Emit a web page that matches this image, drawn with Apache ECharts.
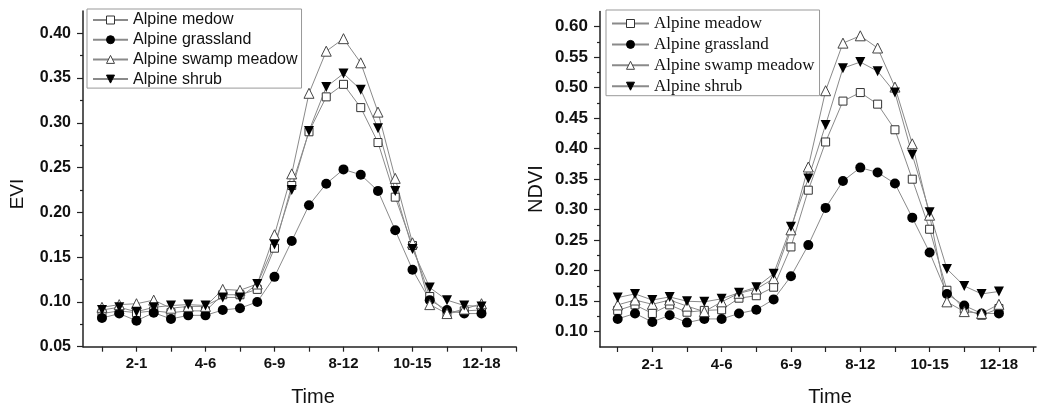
<!DOCTYPE html>
<html>
<head>
<meta charset="utf-8">
<script src="https://cdn.jsdelivr.net/npm/echarts@6/dist/echarts.min.js"></script>
<style>
html, body { margin: 0; padding: 0; background: #fff; }
#echarts { width: 1038px; height: 408px; }
</style>
</head>
<body>
<div id="echarts"></div>
<script>
// x labels sit on every 4th sample (23 samples per curve)
var timeLabels = ['2-1', '4-6', '6-9', '8-12', '10-15', '12-18'];
var timeLabelIndex = [2, 6, 10, 14, 18, 22];

var eviNames = ['Alpine medow', 'Alpine grassland', 'Alpine swamp meadow', 'Alpine shrub'];
var ndviNames = ['Alpine meadow', 'Alpine grassland', 'Alpine swamp meadow', 'Alpine shrub'];

// EVI
var eviMeadow = [0.087, 0.090, 0.088, 0.090, 0.088, 0.090, 0.090, 0.108, 0.108, 0.114, 0.160, 0.230, 0.290, 0.329, 0.343, 0.317, 0.278, 0.217, 0.163, 0.106, 0.087, 0.090, 0.091];
var eviGrass  = [0.082, 0.087, 0.079, 0.088, 0.081, 0.085, 0.085, 0.091, 0.093, 0.100, 0.128, 0.168, 0.208, 0.232, 0.248, 0.242, 0.224, 0.180, 0.136, 0.102, 0.091, 0.087, 0.087];
var eviSwamp  = [0.094, 0.097, 0.098, 0.102, 0.093, 0.095, 0.095, 0.114, 0.113, 0.120, 0.175, 0.243, 0.333, 0.380, 0.394, 0.367, 0.312, 0.238, 0.166, 0.097, 0.087, 0.092, 0.098];
var eviShrub  = [0.091, 0.094, 0.089, 0.094, 0.096, 0.097, 0.096, 0.105, 0.105, 0.120, 0.164, 0.225, 0.291, 0.340, 0.355, 0.337, 0.294, 0.224, 0.159, 0.116, 0.102, 0.096, 0.095];

// NDVI
var ndviMeadow = [0.135, 0.144, 0.130, 0.144, 0.132, 0.135, 0.136, 0.155, 0.159, 0.173, 0.239, 0.332, 0.411, 0.478, 0.492, 0.473, 0.431, 0.350, 0.268, 0.168, 0.137, 0.127, 0.138];
var ndviGrass  = [0.121, 0.130, 0.116, 0.127, 0.115, 0.121, 0.121, 0.130, 0.136, 0.153, 0.191, 0.242, 0.303, 0.347, 0.369, 0.361, 0.343, 0.287, 0.230, 0.162, 0.143, 0.130, 0.130];
var ndviSwamp  = [0.144, 0.152, 0.145, 0.152, 0.142, 0.133, 0.149, 0.163, 0.170, 0.187, 0.267, 0.370, 0.495, 0.573, 0.585, 0.565, 0.501, 0.408, 0.291, 0.149, 0.133, 0.130, 0.145];
var ndviShrub  = [0.156, 0.162, 0.152, 0.157, 0.150, 0.149, 0.154, 0.164, 0.173, 0.195, 0.272, 0.351, 0.439, 0.532, 0.542, 0.527, 0.492, 0.390, 0.296, 0.203, 0.175, 0.162, 0.166];

var eviTicks = [0.05, 0.10, 0.15, 0.20, 0.25, 0.30, 0.35, 0.40];
var ndviTicks = [0.10, 0.15, 0.20, 0.25, 0.30, 0.35, 0.40, 0.45, 0.50, 0.55, 0.60];

window.onload = function () {
    var axisColor = '#222';
    var lineColor = '#8a8a8a';

    // marker look of each curve (same order as names)
    var markers = [
        { symbol: 'rect', symbolSize: 8, symbolRotate: 0, itemStyle: { color: '#fff', borderColor: '#333', borderWidth: 1 } },
        { symbol: 'circle', symbolSize: 10, symbolRotate: 0, itemStyle: { color: '#000', borderColor: '#000', borderWidth: 0 } },
        { symbol: 'triangle', symbolSize: 10, symbolRotate: 0, itemStyle: { color: '#fff', borderColor: '#444', borderWidth: 1 } },
        { symbol: 'triangle', symbolSize: 10, symbolRotate: 180, itemStyle: { color: '#000', borderColor: '#000', borderWidth: 0 } }
    ];

    function toPairs(arr) {
        return arr.map(function (v, i) { return [i, v]; });
    }

    function halfSteps(list) {
        var out = [];
        for (var i = 0; i < list.length - 1; i++) {
            out.push(Math.round((list[i] + list[i + 1]) / 2 * 1000) / 1000);
        }
        return out;
    }

    var xTickValues = [];
    for (var t = 0; t <= 24; t += 2) xTickValues.push(t);

    function xAxisOf(grid, min, max) {
        return {
            type: 'value', gridIndex: grid, min: min, max: max,
            splitLine: { show: false },
            axisLine: { onZero: false, lineStyle: { color: axisColor, width: 1.5 } },
            axisTick: { inside: false, length: 5, customValues: xTickValues, lineStyle: { color: axisColor, width: 1.2 } },
            axisLabel: {
                customValues: timeLabelIndex, margin: 10,
                color: '#111', fontSize: 15, fontWeight: 'bold', fontFamily: 'Liberation Sans, Arial',
                formatter: function (v) { return timeLabels[timeLabelIndex.indexOf(v)] || ''; }
            }
        };
    }

    function yAxisOf(grid, min, max, ticks, fontSize) {
        return {
            type: 'value', gridIndex: grid, min: min, max: max, position: 'left',
            splitLine: { show: false },
            axisLine: { onZero: false, lineStyle: { color: axisColor, width: 1.5 } },
            axisTick: { length: 6, customValues: ticks, lineStyle: { color: axisColor, width: 1.2 } },
            axisLabel: {
                customValues: ticks, margin: 12,
                color: '#111', fontSize: fontSize, fontWeight: 'bold', fontFamily: 'Liberation Sans, Arial',
                formatter: function (v) { return v.toFixed(2); }
            }
        };
    }

    function minorAxisOf(grid, min, max, ticks) {
        return {
            type: 'value', gridIndex: grid, min: min, max: max, position: 'left', offset: 0,
            splitLine: { show: false },
            axisLine: { show: false, onZero: false },
            axisLabel: { show: false },
            axisTick: { length: 3, customValues: halfSteps(ticks), lineStyle: { color: axisColor, width: 1.2 } }
        };
    }

    function seriesOf(names, lists, axisIndex) {
        return lists.map(function (arr, k) {
            return {
                name: names[k], type: 'line',
                xAxisIndex: axisIndex, yAxisIndex: axisIndex,
                data: toPairs(arr),
                symbol: markers[k].symbol,
                symbolSize: markers[k].symbolSize,
                symbolRotate: markers[k].symbolRotate,
                itemStyle: markers[k].itemStyle,
                lineStyle: { color: lineColor, width: 1 },
                emphasis: { disabled: true },
                animation: false
            };
        });
    }

    var option = {
        backgroundColor: '#fff',
        animation: false,
        grid: [
            { left: 83, top: 10.9, width: 433, height: 335.8 },
            { left: 600, top: 11.4, width: 436, height: 335.6 }
        ],
        xAxis: [xAxisOf(0, -1.1, 24), xAxisOf(1, -1.02, 24.14)],
        yAxis: [
            yAxisOf(0, 0.05, 0.425, eviTicks, 16),
            yAxisOf(1, 0.075, 0.625, ndviTicks, 17),
            minorAxisOf(0, 0.05, 0.425, eviTicks),
            minorAxisOf(1, 0.075, 0.625, ndviTicks)
        ],
        legend: [
            {
                data: eviNames, orient: 'vertical', left: 87, top: 9,
                itemWidth: 35, itemHeight: 10, itemGap: 3.7,
                padding: [3, 4, 1, 5],
                borderColor: '#999', borderWidth: 1,
                selectedMode: false,
                itemStyle: { borderWidth: 1 },
                textStyle: { fontSize: 16, lineHeight: 16, color: '#111', fontFamily: 'Liberation Sans, Arial' }
            },
            {
                data: ndviNames, orient: 'vertical', left: 606, top: 10,
                itemWidth: 37, itemHeight: 10, itemGap: 3.9,
                padding: [5, 5, 1, 5],
                borderColor: '#999', borderWidth: 1,
                selectedMode: false,
                itemStyle: { borderWidth: 1 },
                textStyle: { fontSize: 17, lineHeight: 17, color: '#111', fontFamily: 'Liberation Serif, Times New Roman' }
            }
        ],
        graphic: [
            { type: 'text', x: 18, y: 194, rotation: Math.PI / 2, style: { text: 'EVI', font: '19px Liberation Sans', fill: '#111', align: 'center', verticalAlign: 'middle' } },
            { type: 'text', x: 536, y: 189, rotation: Math.PI / 2, style: { text: 'NDVI', font: '20px Liberation Sans', fill: '#111', align: 'center', verticalAlign: 'middle' } },
            { type: 'text', x: 313, y: 397, style: { text: 'Time', font: '20px Liberation Sans', fill: '#111', align: 'center', verticalAlign: 'middle' } },
            { type: 'text', x: 830, y: 397, style: { text: 'Time', font: '20px Liberation Sans', fill: '#111', align: 'center', verticalAlign: 'middle' } }
        ],
        series: seriesOf(eviNames, [eviMeadow, eviGrass, eviSwamp, eviShrub], 0)
            .concat(seriesOf(ndviNames, [ndviMeadow, ndviGrass, ndviSwamp, ndviShrub], 1))
    };

    var mychart = echarts.init(document.getElementById('echarts'));
    mychart.setOption(option);
};
</script>
</body>
</html>
